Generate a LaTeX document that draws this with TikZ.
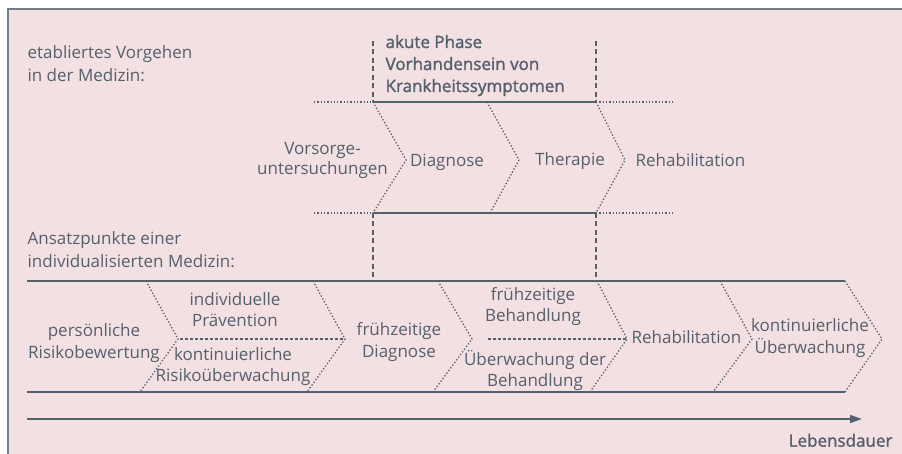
\documentclass[tikz,border=0pt]{standalone}
\usepackage{fontspec}
\setmainfont{Open Sans}
\newfontfamily\semib[FakeBold=1.6]{Open Sans}
\usetikzlibrary{arrows.meta}
\definecolor{bg}{RGB}{242,224,226}
\definecolor{ink}{RGB}{86,96,108}
\definecolor{rim}{RGB}{112,126,140}

\begin{document}
\begin{tikzpicture}[x=1pt,y=-1pt,line width=1.2pt,draw=ink,
    every node/.style={text=ink,inner sep=0pt,font=\fontsize{17}{21.5}\selectfont},
    semi/.style={font=\semib\fontsize{17}{22}\selectfont},
    dots/.style={dash pattern=on 1.3pt off 2pt,line width=1.3pt},
    vdashed/.style={dash pattern=on 5pt off 3.5pt,line width=1.2pt},
    hdashed/.style={dash pattern=on 3pt off 2pt,line width=1.1pt}]
		\useasboundingbox (0,0) rectangle (902,454);
		\fill[bg] (8,9) rectangle (902,454);
		\draw[rim,line width=1.5pt] (8,454)--(8,9)--(902,9);
		
		% etabliertes Vorgehen
		\coordinate(T1) at (314,102);
		\coordinate(T2) at (373,102);
		\coordinate(T3) at (487,102);
		\coordinate(T4) at (596,102);
		\coordinate(T5) at (672,102);
		\coordinate(B1) at (314,213);
		\coordinate(B2) at (373,213);
		\coordinate(B3) at (490,213);
		\coordinate(B4) at (596,213);
		\coordinate(B5) at (672,213);
		\coordinate(P1) at (406,160);
		\coordinate(P2) at (519,160);
		\coordinate(P3) at (625,160);
		\coordinate(D1) at (373,41);
		\coordinate(D2) at (596,41);
		\coordinate(E1) at (373,281);
		\coordinate(E2) at (596,281);
		
		\draw[dots] (T1)--(T2) (T4)--(T5) (B1)--(B2) (B4)--(B5);
		\draw (T2)--(T4) (B2)--(B4);
		\draw[dots] (T2)--(P1)--(B2) (T3)--(P2)--(B3) (T4)--(P3)--(B4);
		\draw[vdashed] (D1)--(T2) (B2)--(E1) (D2)--(T4) (B4)--(E2);
		
		\node[anchor=base west,align=left,font=\fontsize{17}{23.5}\selectfont] (etab) at (27,82) {etabliertes Vorgehen\\in der Medizin:};
		\node[anchor=base west,align=left,semi] (akut) at (385,92)
			{akute Phase\\Vorhandensein von\\Krankheitssymptomen};
		\node[anchor=base,align=center,font=\fontsize{17}{20.5}\selectfont] (vor) at (322.5,175) {Vorsorge-\\untersuchungen};
		\node[anchor=base] (dia) at (447,167) {Diagnose};
		\node[anchor=base] (the) at (570,166) {Therapie};
		\node[anchor=base] (reh) at (690.5,167) {Rehabilitation};
		
		% individualisierte Medizin
		\coordinate(L1) at (27,281);
		\coordinate(R1) at (845,281);
		\coordinate(L2) at (27,392);
		\coordinate(R2) at (845,392);
		\draw (L1)--(R1) (L2)--(R2);
		\foreach \a/\b/\c [count=\i] in {146/178/140,313/345/307,438/472/433,597/627/590,720/752/713,845/882/845}{
			\coordinate(U\i) at (\a,281);
			\coordinate(S\i) at (\b,339);
			\coordinate(V\i) at (\c,392);
			\draw[dots] (U\i)--(S\i)--(V\i);
		}
		\coordinate(H1) at (180,339);
		\coordinate(H2) at (488,339);
		\draw[hdashed] (H1)--(S2) (H2)--(S4);
		
		\node[anchor=base west,align=left,font=\fontsize{17}{22.7}\selectfont] (ansatz) at (27,267.7) {Ansatzpunkte einer\\individualisierten Medizin:};
		\node[anchor=base,align=center] (risk) at (94,358) {persönliche\\Risikobewertung};
		\node[anchor=base,align=center] (prae) at (235,326.7) {individuelle\\Prävention};
		\node[anchor=base,align=center] (kont) at (233,381.7) {kontinuierliche\\Risikoüberwachung};
		\node[anchor=base,align=center] (fdia) at (399,357) {frühzeitige\\Diagnose};
		\node[anchor=base,align=center] (fbeh) at (533,321.7) {frühzeitige\\Behandlung};
		\node[anchor=base,align=center] (ubeh) at (535,386.7) {Überwachung der\\Behandlung};
		\node[anchor=base] (reha) at (686.5,343) {Rehabilitation};
		\node[anchor=base,align=center] (kueb) at (810,353) {kontinuierliche\\Überwachung};
		
		\coordinate(A0) at (27,419);
		\coordinate(A1) at (862,419);
		\draw[line width=1.5pt,-{Triangle[length=12pt,width=8pt]}] (A0)--(A1);
		\node[anchor=base east,semi] (leben) at (893,446.7) {Lebensdauer};
	\end{tikzpicture}
\end{document}
